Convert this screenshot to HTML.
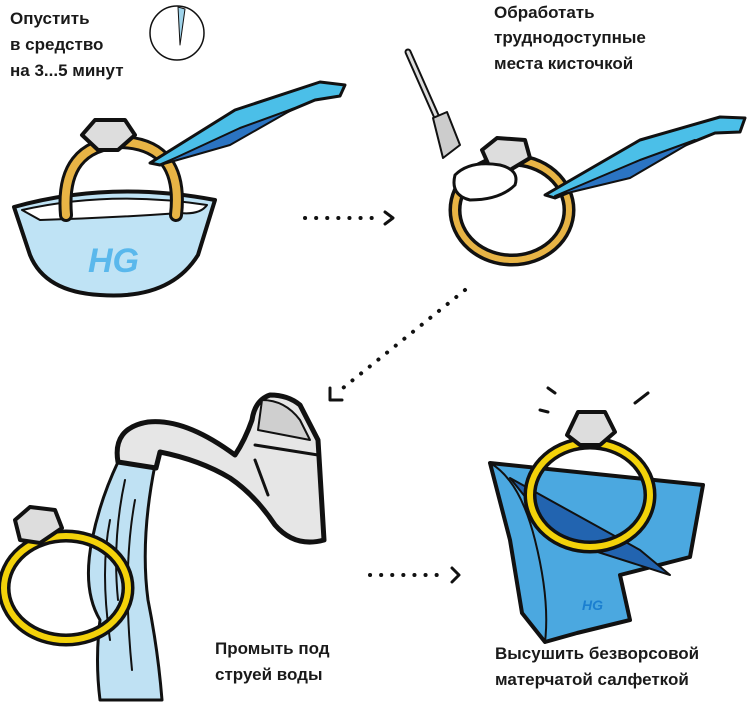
<!DOCTYPE html>
<html><head><meta charset="utf-8"><style>
html,body{margin:0;padding:0;background:#fff;}
svg{display:block}
text{font-family:"Liberation Sans","DejaVu Sans",sans-serif;font-weight:bold;fill:#1a1a1a;font-size:17px;}
</style></head><body>
<svg width="750" height="702" viewBox="0 0 750 702" xmlns="http://www.w3.org/2000/svg">
<g stroke-linejoin="round" stroke-linecap="round">
<!-- Panel 1 -->
<text x="10" y="24">Опустить</text>
<text x="10" y="50">в средство</text>
<text x="10" y="76">на 3...5 минут</text>
<circle cx="177" cy="33" r="27" fill="none" stroke="#111" stroke-width="1.5"/>
<path d="M178 7 L180 45 L185 9 Z" fill="#9fd3ea" stroke="#111" stroke-width="1"/>
<!-- bowl -->
<path d="M14 207 Q110 180 215 200 L198 255 Q170 300 100 295 Q45 292 30 255 Z" fill="#bfe3f5" stroke="#111" stroke-width="4"/>
<path d="M22 210 Q110 190 207 205 Q200 215 180 213 Q110 218 40 220 Z" fill="#fff" stroke="#111" stroke-width="2"/>
<text x="88" y="272" style="font-size:34px;font-style:italic;fill:#5ab8ec;font-weight:900">HG</text>
<!-- ring 1 -->
<path d="M66 215 Q60 145 122 142 Q184 145 176 215" fill="none" stroke="#111" stroke-width="14"/>
<path d="M66 215 Q60 145 122 142 Q184 145 176 215" fill="none" stroke="#e8b445" stroke-width="8"/>
<path d="M82 135 L95 120 L125 120 L135 135 L118 150 L98 150 Z" fill="#ddd" stroke="#111" stroke-width="4"/>
<!-- tweezers 1 -->
<path d="M150 163 L235 110 L320 82 L345 85 L340 96 L315 100 L160 165 Z" fill="#4bbfe8" stroke="#111" stroke-width="3"/>
<path d="M160 165 L240 128 L295 108 L230 145 Z" fill="#2b74c2" stroke="#111" stroke-width="2"/>
<!-- arrow 1 -->
<path d="M305 218 H378" stroke="#111" stroke-width="4" stroke-dasharray="0.1 11"/>
<path d="M385 212 L393 218 L385 224" fill="none" stroke="#111" stroke-width="3"/>

<!-- Panel 2 -->
<text x="494" y="18">Обработать</text>
<text x="494" y="43">труднодоступные</text>
<text x="494" y="69">места кисточкой</text>
<path d="M408 52 L438 120" stroke="#111" stroke-width="7"/>
<path d="M408 52 L438 120" stroke="#ddd" stroke-width="3"/>
<path d="M433 118 L447 112 L460 145 L443 158 Z" fill="#ccc" stroke="#111" stroke-width="2"/>
<ellipse cx="512" cy="210" rx="57" ry="50" fill="none" stroke="#111" stroke-width="13"/>
<ellipse cx="512" cy="210" rx="57" ry="50" fill="none" stroke="#e8b445" stroke-width="6"/>
<path d="M482 150 L497 138 L525 140 L530 158 L510 170 L490 168 Z" fill="#ddd" stroke="#111" stroke-width="4"/>
<path d="M455 175 Q470 160 500 165 Q520 170 515 185 Q500 200 470 200 Q450 195 455 175 Z" fill="#fff" stroke="#111" stroke-width="3"/>
<path d="M545 195 L640 140 L720 117 L745 118 L740 132 L715 133 L555 198 Z" fill="#4bbfe8" stroke="#111" stroke-width="3"/>
<path d="M555 196 L640 160 L695 140 L630 178 Z" fill="#2b74c2" stroke="#111" stroke-width="2"/>
<!-- arrow 2 -->
<path d="M465 290 L338 392" stroke="#111" stroke-width="4" stroke-dasharray="0.1 11"/>
<path d="M330 388 L330 400 L342 400" fill="none" stroke="#111" stroke-width="3"/>

<!-- Panel 3 -->
<path d="M118 462 Q100 500 92 540 Q82 590 100 620 Q95 660 100 700 L162 700 Q158 650 148 600 Q140 540 155 465 Z" fill="#bfe1f3" stroke="#111" stroke-width="3"/>
<path d="M125 480 Q112 540 118 600 M135 500 Q122 570 132 670 M110 520 Q100 570 110 640" fill="none" stroke="#111" stroke-width="2"/>
<path d="M118 462 Q112 428 148 422 Q185 418 235 455 Q245 440 252 420 Q255 400 270 395 Q288 395 300 405 L318 440 L324 540 Q295 548 275 525 Q255 495 230 478 Q200 460 160 452 L156 468 Z" fill="#e6e6e6" stroke="#111" stroke-width="5"/>
<path d="M262 400 Q285 400 300 420 L310 440 L258 430 Z" fill="#cfcfcf" stroke="#111" stroke-width="2"/>
<path d="M255 445 L318 455 M255 460 L268 495" stroke="#111" stroke-width="3"/>
<ellipse cx="66" cy="588" rx="62" ry="52" fill="none" stroke="#111" stroke-width="13"/>
<ellipse cx="66" cy="588" rx="62" ry="52" fill="none" stroke="#f3d20a" stroke-width="6"/>
<path d="M15 520 L30 507 L55 510 L62 528 L40 543 L20 540 Z" fill="#ddd" stroke="#111" stroke-width="4"/>
<text x="215" y="654">Промыть под</text>
<text x="215" y="680">струей воды</text>
<!-- arrow 3 -->
<path d="M370 575 H446" stroke="#111" stroke-width="4" stroke-dasharray="0.1 11"/>
<path d="M452 568 L459 575 L452 582" fill="none" stroke="#111" stroke-width="3"/>

<!-- Panel 4 -->
<path d="M490 463 L703 485 L690 557 L620 575 L630 620 L577 633 L545 642 L522 613 L510 540 Z" fill="#4ba8e0" stroke="#111" stroke-width="4"/>
<path d="M490 463 Q520 480 535 540 Q550 600 545 642" fill="none" stroke="#111" stroke-width="2"/>
<path d="M510 478 L640 550 L670 575 L560 540 Z" fill="#2264b0" stroke="#111" stroke-width="2"/>
<text x="582" y="610" style="font-size:14px;font-style:italic;fill:#1b7fd0;font-weight:900">HG</text>
<ellipse cx="590" cy="495" rx="60" ry="52" fill="none" stroke="#111" stroke-width="13"/>
<ellipse cx="590" cy="495" rx="60" ry="52" fill="none" stroke="#f3d20a" stroke-width="6"/>
<path d="M567 435 L578 412 L605 412 L615 432 L600 445 L580 445 Z" fill="#ddd" stroke="#111" stroke-width="4"/>
<path d="M548 388 L555 393 M540 410 L548 412 M635 403 L648 393" stroke="#111" stroke-width="3"/>
<text x="495" y="659">Высушить безворсовой</text>
<text x="495" y="685">матерчатой салфеткой</text>
</g>
</svg>
</body></html>
